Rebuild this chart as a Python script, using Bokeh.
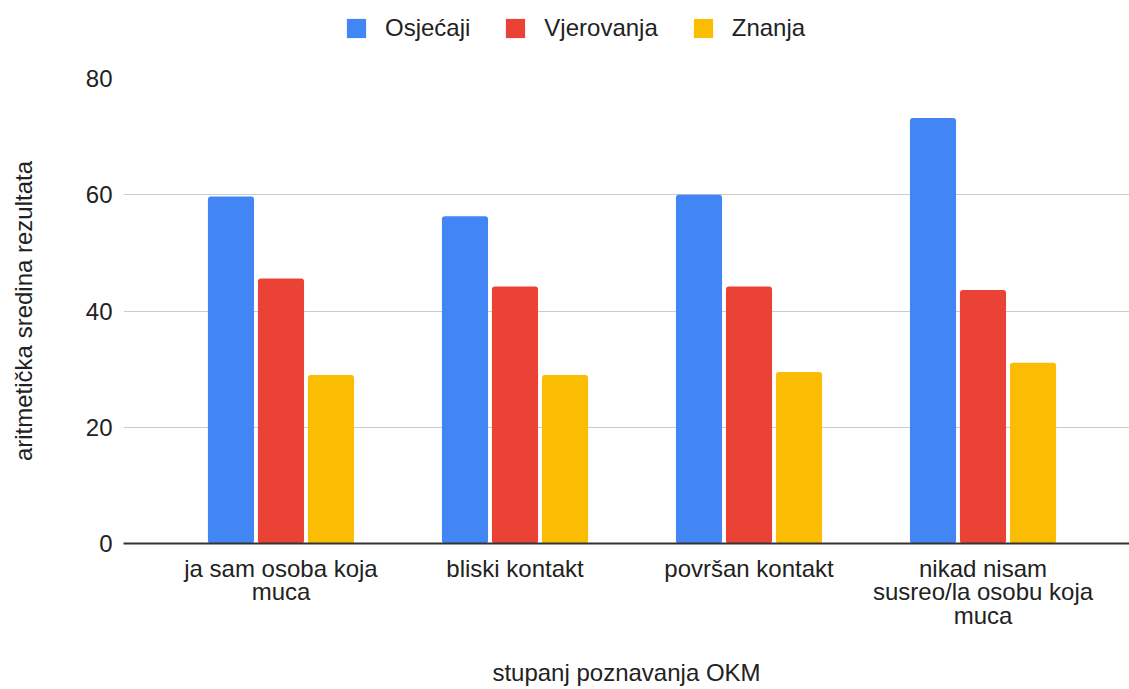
from bokeh.plotting import figure
from bokeh.layouts import column
from bokeh.models import ColumnDataSource, FixedTicker, Legend, LegendItem, Range1d
from bokeh.transform import dodge
from bokeh.embed import file_html
from bokeh.resources import INLINE

# ---- data ----
categories = ["ja sam osoba koja\nmuca", "bliski kontakt", "površan kontakt",
              "nikad nisam\nsusreo/la osobu koja\nmuca"]
series_names = ["Osjećaji", "Vjerovanja", "Znanja"]
osjecaji = [59.7, 56.3, 60.0, 73.2]
vjerovanja = [45.6, 44.2, 44.2, 43.6]
znanja = [29.0, 29.0, 29.5, 31.1]
y_ticks = [0, 20, 40, 60, 80]
x_title = "stupanj poznavanja OKM"
y_title = "aritmetička sredina rezultata"

colors = ["#4285F4", "#EA4335", "#FBBC04"]
FONT = "Liberation Sans"

src = ColumnDataSource(dict(x=list(range(len(categories))),
                            Osjecaji=osjecaji, Vjerovanja=vjerovanja, Znanja=znanja))
fields = ["Osjecaji", "Vjerovanja", "Znanja"]

# ---- legend strip (its own view ranges keep its bars out of sight) ----
lg = figure(width=1129, height=50, output_backend="svg", toolbar_location=None,
            x_range=Range1d(1000, 1001), y_range=Range1d(1000, 1001),
            x_axis_type=None, y_axis_type=None,
            min_border_left=0, min_border_right=0, min_border_top=0, min_border_bottom=0)
lg.outline_line_color = None
lg.xgrid.visible = False
lg.ygrid.visible = False
lg_renderers = [lg.vbar(x="x", top=f, width=0.1, source=src, fill_color=c,
                        line_color=None, border_radius=3) for f, c in zip(fields, colors)]
legend = Legend(items=[LegendItem(label=n, renderers=[r]) for n, r in zip(series_names, lg_renderers)],
                orientation="horizontal", location=(221, 8),
                margin=0, padding=0, spacing=33, label_standoff=17,
                glyph_width=24, glyph_height=24, label_height=24,
                border_line_color=None, background_fill_alpha=0,
                label_text_font=FONT, label_text_font_size="24px", label_text_color="#222222")
lg.add_layout(legend, "center")

# ---- main chart ----
p = figure(width=1129, height=639, output_backend="svg", toolbar_location=None,
           x_range=Range1d(-0.673, 3.626), y_range=Range1d(0, 80),
           min_border_left=123, min_border_right=0, min_border_top=28, min_border_bottom=146)
p.outline_line_color = None
p.background_fill_color = "white"
p.border_fill_color = "white"

bw = 0.197
offs = [-0.2137, 0.0, 0.2137]
for f, o, c in zip(fields, offs, colors):
    p.vbar(x=dodge("x", o), top=f, width=bw, bottom=0, source=src,
           fill_color=c, line_color=None, border_radius=3)

# x axis
p.xaxis.ticker = FixedTicker(ticks=list(range(len(categories))))
p.xaxis.major_label_overrides = {i: c for i, c in enumerate(categories)}
p.xaxis.major_tick_line_color = None
p.xaxis.minor_tick_line_color = None
p.xaxis.axis_line_color = "#333333"
p.xaxis.axis_line_width = 2
p.xaxis.major_label_standoff = 5
p.xaxis.major_label_text_font = FONT
p.xaxis.major_label_text_font_size = "24px"
p.xaxis.major_label_text_color = "#222222"
p.xaxis.major_label_text_line_height = 0.88
p.xaxis.axis_label = x_title
p.xaxis.axis_label_text_font = FONT
p.xaxis.axis_label_text_font_size = "24px"
p.xaxis.axis_label_text_font_style = "normal"
p.xaxis.axis_label_text_color = "#222222"
p.xaxis.axis_label_standoff = 27

# y axis
p.yaxis.ticker = FixedTicker(ticks=y_ticks)
p.yaxis.major_tick_line_color = None
p.yaxis.minor_tick_line_color = None
p.yaxis.axis_line_color = None
p.yaxis.major_label_standoff = 5
p.yaxis.major_label_text_font = FONT
p.yaxis.major_label_text_font_size = "24px"
p.yaxis.major_label_text_color = "#222222"
p.yaxis.axis_label = y_title
p.yaxis.axis_label_text_font = FONT
p.yaxis.axis_label_text_font_size = "24px"
p.yaxis.axis_label_text_font_style = "normal"
p.yaxis.axis_label_text_color = "#222222"
p.yaxis.axis_label_standoff = 46

p.xgrid.grid_line_color = None
p.ygrid.ticker = FixedTicker(ticks=y_ticks)
p.ygrid.grid_line_color = "#cccccc"
p.ygrid.grid_line_width = 1

layout = column(lg, p, spacing=0)
open("out.html", "w").write(file_html(layout, INLINE))
